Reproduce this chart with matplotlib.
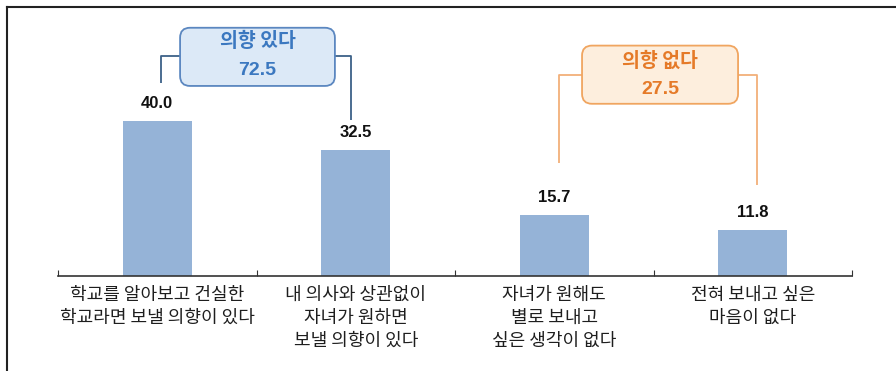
import matplotlib.pyplot as plt
import matplotlib.lines as mlines
from matplotlib.patches import FancyBboxPatch

plt.rcParams['font.family'] = ['Noto Sans CJK KR', 'DejaVu Sans']

CATEGORIES = ['학교를 알아보고 건실한\n학교라면 보낼 의향이 있다',
              '내 의사와 상관없이\n자녀가 원하면\n보낼 의향이 있다',
              '자녀가 원해도\n별로 보내고\n싶은 생각이 없다',
              '전혀 보내고 싶은\n마음이 없다']
VALUES = [40.0, 32.5, 15.7, 11.8]

GROUP_LABELS = ['의향 있다', '의향 없다']
GROUP_TOTALS = [72.5, 27.5]

BAR_COLOR = '#95b3d7'

fig = plt.figure(figsize=(8.96, 3.71), dpi=100)
ax = fig.add_axes([58 / 896, 95 / 371, 794 / 896, 256 / 371])

x = list(range(len(VALUES)))
ax.bar(x, VALUES, width=0.35, color=BAR_COLOR, zorder=2)

for xi, v in zip(x, VALUES):
    ax.text(xi, v + 2.6, f'{v:.1f}', ha='center', va='bottom', fontsize=12,
            fontweight='bold', family='Liberation Sans', color='#111111')

ax.set_xlim(-0.5, 3.5)
ax.set_ylim(0, 66)

for side in ['top', 'right', 'left']:
    ax.spines[side].set_visible(False)
ax.spines['bottom'].set_color('#333333')
ax.spines['bottom'].set_linewidth(1.2)
ax.set_yticks([])

# boundaries between categories get the small upward ticks, names sit in between
ax.set_xticks([-0.5, 0.5, 1.5, 2.5, 3.5])
ax.set_xticklabels([])
ax.tick_params(axis='x', which='major', direction='in', length=4, color='#333333')
ax.set_xticks(x, minor=True)
ax.set_xticklabels(CATEGORIES, minor=True, fontsize=13, color='#1e1e1e',
                   linespacing=1.36)
ax.tick_params(axis='x', which='minor', length=0, pad=7)

# x data unit = 198.5 px, y data unit = 3.875 px; keeps the corners circular
ASPECT = (10 / 3.875) / (10 / 198.5)


def bracket(x0, x1, y0, y1, ymid, bx0, bx1, by0, by1, line_color, edge, face,
            text_color, label, total):
    ax.plot([x0, x0, bx0], [y0, ymid, ymid], color=line_color, lw=1.3, zorder=1,
            solid_capstyle='butt')
    ax.plot([bx1, x1, x1], [ymid, ymid, y1], color=line_color, lw=1.3, zorder=1,
            solid_capstyle='butt')
    box = FancyBboxPatch((bx0, by0), bx1 - bx0, by1 - by0,
                         boxstyle='round,pad=0,rounding_size=0.05',
                         mutation_aspect=ASPECT,
                         facecolor=face, edgecolor=edge, lw=1.3, zorder=3)
    ax.add_patch(box)
    cx = (bx0 + bx1) / 2
    ax.text(cx, ymid + 3.6, label, ha='center', va='center', fontsize=14,
            fontweight='bold', color=text_color, zorder=4)
    ax.text(cx, ymid - 3.9, f'{total:.1f}', ha='center', va='center',
            fontsize=14, fontweight='bold', family='Liberation Sans',
            color=text_color, zorder=4)


bracket(0.02, 0.976, 49.8, 40.3, 56.8, 0.115, 0.895, 49.0, 64.0,
        '#3d6188', '#5b87c0', '#dce9f7', '#3b78c0', GROUP_LABELS[0], GROUP_TOTALS[0])
bracket(2.024, 3.021, 29.2, 23.5, 51.9, 2.140, 2.926, 44.4, 59.4,
        '#f2b07a', '#f0a560', '#fdeedd', '#e57a28', GROUP_LABELS[1], GROUP_TOTALS[1])

# outer frame, left and top edges only
fig.add_artist(mlines.Line2D([7 / 896, 7 / 896], [0, 1 - 7 / 371],
                             color='#222222', lw=1.5))
fig.add_artist(mlines.Line2D([7 / 896, 1], [1 - 7 / 371, 1 - 7 / 371],
                             color='#222222', lw=1.5))

plt.savefig('out.png', dpi=100)
